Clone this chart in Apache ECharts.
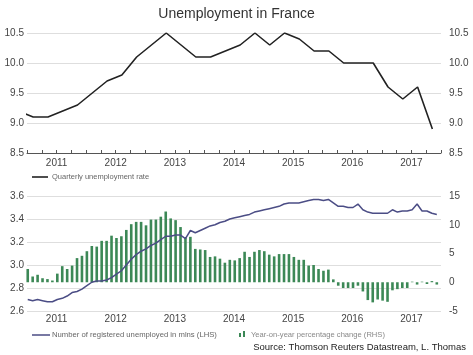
<!DOCTYPE html>
<html><head><meta charset="utf-8">
<script src="https://cdn.jsdelivr.net/npm/echarts@6/dist/echarts.min.js"></script>
<style>html,body{margin:0;padding:0;background:#fff}#c{width:473px;height:355px}</style>
</head><body><div id="c"></div>
<script>
// ---- Data ----
const rateQuarters = ['2010 Q4',
  '2011 Q1','2011 Q2','2011 Q3','2011 Q4',
  '2012 Q1','2012 Q2','2012 Q3','2012 Q4',
  '2013 Q1','2013 Q2','2013 Q3','2013 Q4',
  '2014 Q1','2014 Q2','2014 Q3','2014 Q4',
  '2015 Q1','2015 Q2','2015 Q3','2015 Q4',
  '2016 Q1','2016 Q2','2016 Q3','2016 Q4',
  '2017 Q1','2017 Q2','2017 Q3','2017 Q4'];
const unemploymentRate = [9.2,
  9.1, 9.1, 9.2, 9.3,
  9.5, 9.7, 9.8, 10.1,
  10.3, 10.5, 10.3, 10.1,
  10.1, 10.2, 10.3, 10.5,
  10.3, 10.5, 10.4, 10.2,
  10.2, 10.0, 10.0, 10.0,
  9.6, 9.4, 9.6, 8.9];

const monthStartYear = 2011; // monthly series: Jan 2011 .. Dec 2017
const registeredMlns = [
  2.70, 2.69, 2.70, 2.69, 2.68, 2.68, 2.70, 2.71, 2.73, 2.76, 2.77, 2.79,
  2.82, 2.85, 2.86, 2.86, 2.87, 2.89, 2.92, 2.95, 3.00, 3.05, 3.09, 3.12,
  3.14, 3.17, 3.19, 3.22, 3.25, 3.25, 3.26, 3.26, 3.23, 3.30, 3.28, 3.30,
  3.32, 3.34, 3.35, 3.37, 3.38, 3.40, 3.41, 3.42, 3.43, 3.44, 3.46, 3.47,
  3.48, 3.49, 3.50, 3.51, 3.53, 3.54, 3.54, 3.54, 3.55, 3.56, 3.57, 3.57,
  3.56, 3.57, 3.54, 3.51, 3.51, 3.50, 3.50, 3.53, 3.48, 3.46, 3.45, 3.45,
  3.45, 3.45, 3.48, 3.46, 3.47, 3.47, 3.48, 3.53, 3.47, 3.47, 3.45, 3.44];
const yoyChange = [
  2.3, 1.0, 1.3, 0.7, 0.55, 0.3, 1.5, 2.8, 2.3, 2.9, 4.2, 4.6,
  5.4, 6.3, 6.2, 7.2, 7.2, 8.1, 7.7, 8.0, 9.1, 10.1, 10.5, 10.5,
  9.9, 10.9, 10.9, 11.4, 12.3, 11.1, 10.8, 9.6, 7.7, 7.9, 5.8, 5.7,
  5.6, 4.4, 4.5, 4.1, 3.4, 3.9, 3.8, 4.2, 5.3, 4.4, 5.3, 5.6,
  5.4, 4.8, 4.5, 4.9, 4.9, 4.9, 4.4, 3.9, 3.9, 2.9, 3.0, 2.3,
  2.0, 2.2, 0.5, -0.6, -1.0, -1.0, -1.0, -0.6, -1.6, -3.1, -3.5, -3.0,
  -3.2, -3.4, -1.4, -1.2, -1.0, -1.0, 0.1, -0.4, 0.1, -0.3, 0.2, -0.4];

const topTicks = [8.5, 9.0, 9.5, 10.0, 10.5];
const lhsTicks = [2.6, 2.8, 3.0, 3.2, 3.4, 3.6];
const rhsTicks = [-5, 0, 5, 10, 15];

// ---- Build ----
function quarterX(s){ const y=+s.slice(0,4), q=+s.slice(6); return y + ((q-1)*3 + 1.25)/12; }
function monthX(i){ return monthStartYear + (i + 0.15)/12; }
const rateData = rateQuarters.map((q,i)=>[quarterX(q), unemploymentRate[i]]);
const regData = registeredMlns.map((v,i)=>[monthX(i), v]);
const yoyData = yoyChange.map((v,i)=>[monthX(i), v]);

const FONT = 'Liberation Sans, Arial, sans-serif';
const yearFmt = v => Math.abs((v % 1) - 0.5) < 1e-6 ? String(Math.floor(v)) : '';
const lab = {color:'#444', fontSize:10, fontFamily:FONT};

const chart = echarts.init(document.getElementById('c'), null, {renderer:'canvas'});
chart.setOption({
  animation:false,
  backgroundColor:'#fff',
  title:{text:'Unemployment in France', left:'center', top:2,
    textStyle:{fontSize:14, fontWeight:'normal', color:'#333', fontFamily:FONT}},
  grid:[
    {left:27, right:32, top:33, height:120},
    {left:27, right:32, top:196, height:115}
  ],
  xAxis:[
    {gridIndex:0, type:'value', min:2011, max:2018, interval:0.25,
     axisLine:{lineStyle:{color:'#555', width:1}},
     axisTick:{show:true, inside:true, length:3, lineStyle:{color:'#555'}},
     axisLabel:Object.assign({margin:5, formatter:yearFmt}, lab),
     splitLine:{show:false}},
    {gridIndex:1, type:'value', min:2011, max:2018, interval:0.5,
     axisLine:{show:false}, axisTick:{show:false},
     axisLabel:Object.assign({margin:3, formatter:yearFmt}, lab),
     splitLine:{show:false}}
  ],
  yAxis:[
    {gridIndex:0, type:'value', position:'left', min:topTicks[0], max:topTicks[topTicks.length-1], interval:0.5,
     axisLine:{show:false}, axisTick:{show:false},
     axisLabel:Object.assign({margin:3, formatter:v=>v.toFixed(1)}, lab),
     splitLine:{lineStyle:{color:'#dedede', width:1}}},
    {gridIndex:0, type:'value', position:'right', min:topTicks[0], max:topTicks[topTicks.length-1], interval:0.5,
     axisLine:{show:false}, axisTick:{show:false},
     axisLabel:Object.assign({margin:8, formatter:v=>v.toFixed(1)}, lab),
     splitLine:{show:false}},
    {gridIndex:1, type:'value', position:'left', min:lhsTicks[0], max:lhsTicks[lhsTicks.length-1], interval:0.2,
     axisLine:{show:false}, axisTick:{show:false},
     axisLabel:Object.assign({margin:3, formatter:v=>v.toFixed(1)}, lab),
     splitLine:{lineStyle:{color:'#dedede', width:1}}},
    {gridIndex:1, type:'value', position:'right', min:rhsTicks[0], max:rhsTicks[rhsTicks.length-1], interval:5,
     axisLine:{show:false}, axisTick:{show:false},
     axisLabel:Object.assign({margin:8}, lab),
     splitLine:{show:false}}
  ],
  series:[
    {name:'Quarterly unemployment rate', type:'line', xAxisIndex:0, yAxisIndex:0,
     data:rateData, showSymbol:false, clip:true,
     lineStyle:{color:'#222', width:1.6}, z:3},
    {name:'Year-on-year percentage change (RHS)', type:'bar', xAxisIndex:1, yAxisIndex:3,
     data:yoyData, barWidth:2.6, itemStyle:{color:'#3c8856'}, z:2},
    {name:'Number of registered unemployed in mlns (LHS)', type:'line', xAxisIndex:1, yAxisIndex:2,
     data:regData, showSymbol:false, clip:true,
     lineStyle:{color:'#4b4d85', width:1.5}, z:3}
  ],
  graphic:[
    {type:'line', shape:{x1:32,y1:177,x2:48,y2:177}, style:{stroke:'#222', lineWidth:1.6}},
    {type:'text', left:52, top:173, style:{text:'Quarterly unemployment rate', fill:'#666', font:'7.5px '+FONT}},
    {type:'line', shape:{x1:32,y1:335,x2:50,y2:335}, style:{stroke:'#4b4d85', lineWidth:1.5}},
    {type:'text', left:52, top:331, style:{text:'Number of registered unemployed in mlns (LHS)', fill:'#666', font:'7.7px '+FONT}},
    {type:'rect', shape:{x:239,y:333,width:2,height:4}, style:{fill:'#3c8856'}},
    {type:'rect', shape:{x:243,y:331,width:2,height:6}, style:{fill:'#3c8856'}},
    {type:'text', left:251, top:331, style:{text:'Year-on-year percentage change (RHS)', fill:'#888', font:'7.6px '+FONT}},
    {type:'text', right:7, top:342, style:{text:'Source: Thomson Reuters Datastream, L. Thomas', fill:'#222', font:'9.5px '+FONT}}
  ]
});
</script></body></html>
